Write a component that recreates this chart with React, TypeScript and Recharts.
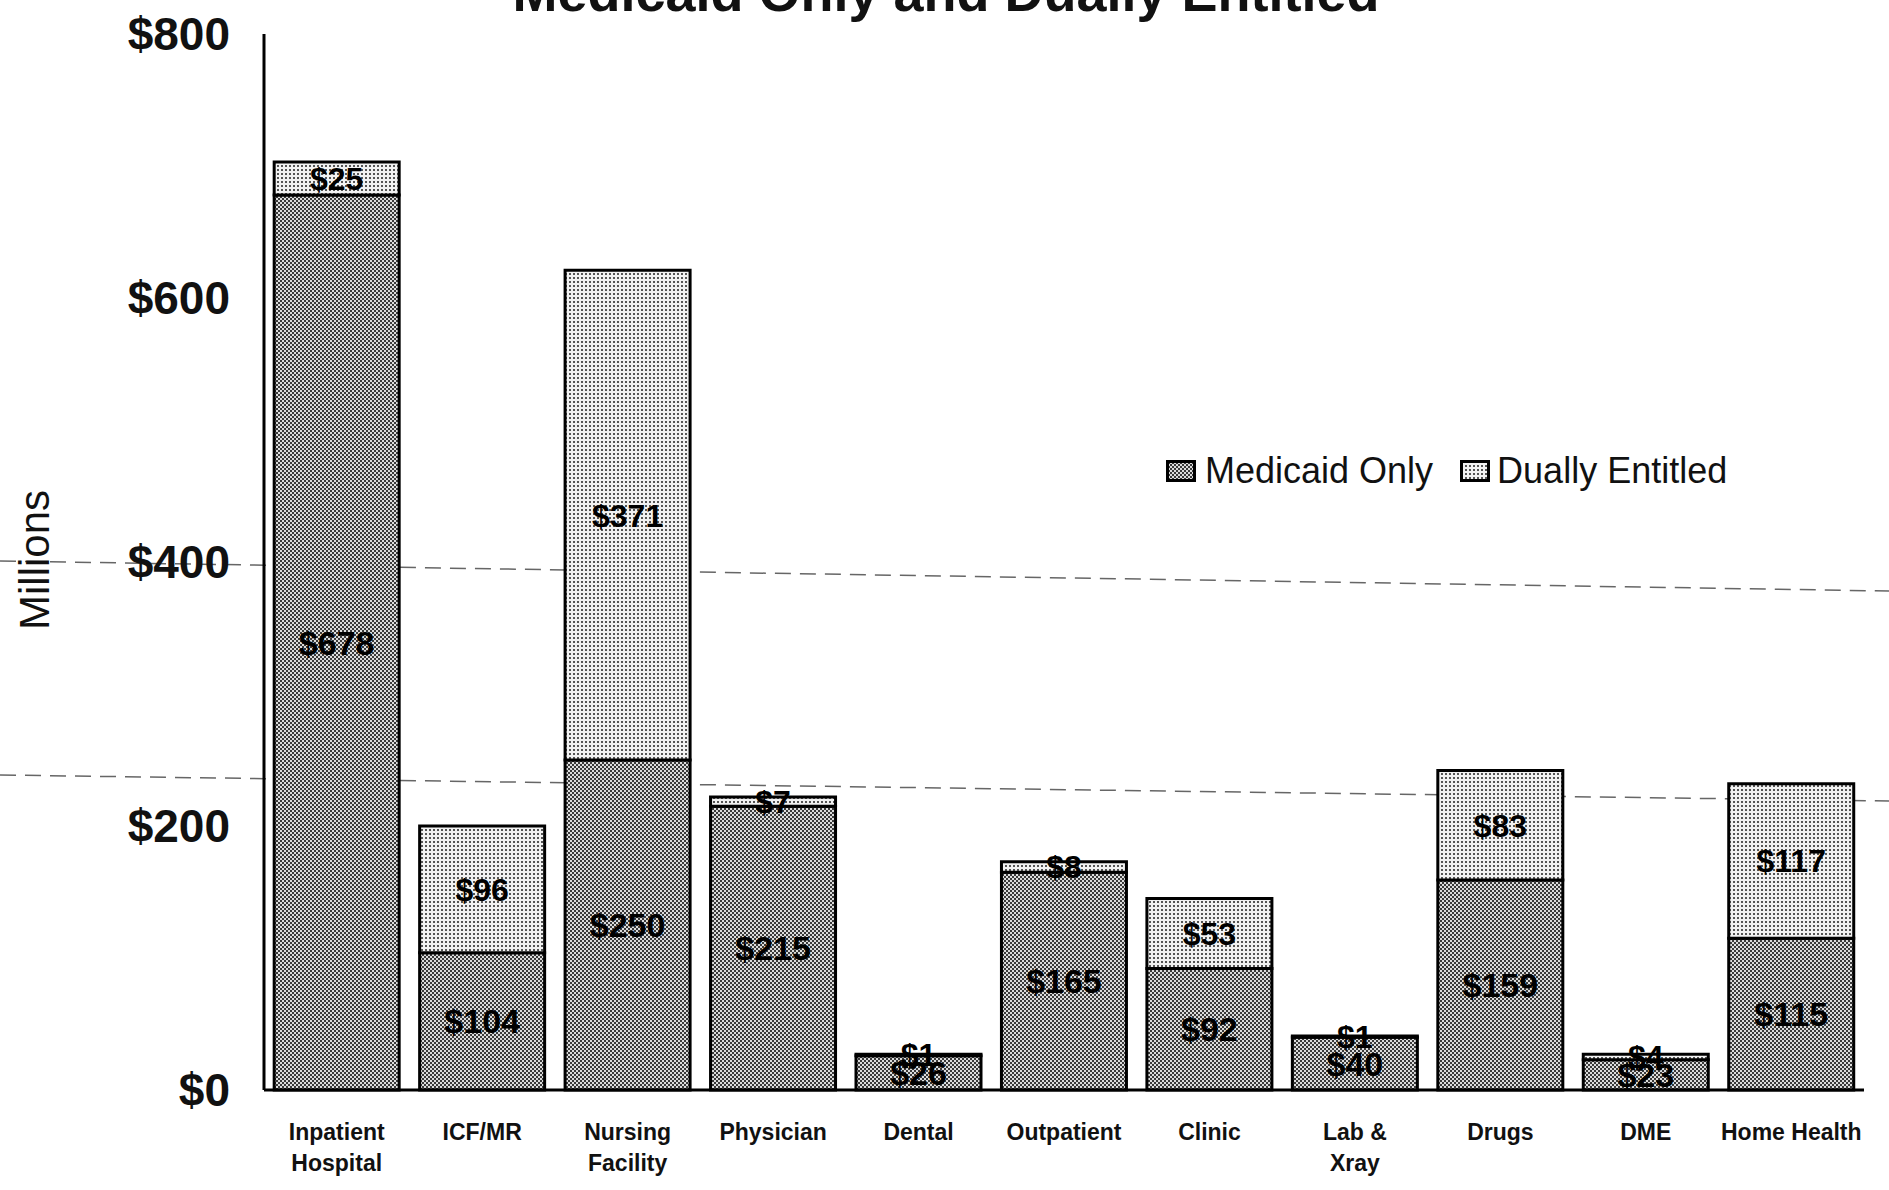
import React from 'react';
import { BarChart, Bar, XAxis, YAxis, LabelList, Legend } from 'recharts';

const categories = [
  'Inpatient\nHospital',
  'ICF/MR',
  'Nursing\nFacility',
  'Physician',
  'Dental',
  'Outpatient',
  'Clinic',
  'Lab &\nXray',
  'Drugs',
  'DME',
  'Home Health',
];
const medicaidOnly = [678, 104, 250, 215, 26, 165, 92, 40, 159, 23, 115];
const duallyEntitled = [25, 96, 371, 7, 1, 8, 53, 1, 83, 4, 117];
const yTicks = [0, 200, 400, 600, 800];
const seriesNames = ['Medicaid Only', 'Dually Entitled'];
const title = 'Medicaid Only and Dually Entitled';
const yLabel = 'Millions';

const data = categories.map((c, i) => ({
  name: c,
  medicaid: medicaidOnly[i],
  dual: duallyEntitled[i],
}));

const FONT = '"Liberation Sans", Arial, sans-serif';

const XTick = (props: any) => {
  const { x, y, payload } = props;
  const lines = String(payload.value).split('\n');
  return (
    <g transform={`translate(${x},${y})`}>
      {lines.map((l: string, i: number) => (
        <text
          key={i}
          x={0}
          y={50 + i * 31}
          textAnchor="middle"
          fontSize={23}
          fontWeight="bold"
          fontFamily={FONT}
          fill="#111"
        >
          {l}
        </text>
      ))}
    </g>
  );
};

const YTick = (props: any) => {
  const { x, y, payload } = props;
  return (
    <text
      x={x - 34}
      y={y}
      textAnchor="end"
      dominantBaseline="central"
      fontSize={46}
      fontWeight="bold"
      fontFamily={FONT}
      fill="#111"
    >
      {`$${payload.value}`}
    </text>
  );
};

const LegendContent = () => (
  <div
    style={{
      display: 'flex',
      alignItems: 'center',
      fontSize: 36,
      fontFamily: FONT,
      color: '#111',
      whiteSpace: 'nowrap',
    }}
  >
    <svg width={30} height={22} style={{ marginRight: 9 }}>
      <rect x={1.5} y={1.5} width={27} height={19} fill="url(#patMedicaid)" stroke="#000" strokeWidth={3} />
    </svg>
    <span style={{ marginRight: 27 }}>{seriesNames[0]}</span>
    <svg width={30} height={22} style={{ marginRight: 7 }}>
      <rect x={1.5} y={1.5} width={27} height={19} fill="url(#patDual)" stroke="#000" strokeWidth={3} />
    </svg>
    <span>{seriesNames[1]}</span>
  </div>
);

export default function App() {
  return (
    <div
      style={{
        position: 'absolute',
        top: 0,
        left: 0,
        width: 1889,
        height: 1190,
        background: '#fff',
        overflow: 'hidden',
        fontFamily: FONT,
      }}
    >
      <svg
        width={1889}
        height={1190}
        style={{ position: 'absolute', top: 0, left: 0 }}
      >
        <line x1={0} y1={561} x2={1889} y2={591} stroke="#666" strokeWidth={1.5} strokeDasharray="16 9" />
        <line x1={0} y1={775} x2={1889} y2={801} stroke="#666" strokeWidth={1.5} strokeDasharray="16 9" />
      </svg>
      <div style={{ position: 'absolute', top: 0, left: 0 }}>
        <BarChart
          width={1889}
          height={1190}
          data={data}
          margin={{ top: 34, right: 25, bottom: 0, left: 0 }}
          barCategoryGap="7%"
        >
          <defs>
            <pattern id="patMedicaid" width={4} height={4} patternUnits="userSpaceOnUse">
              <rect width={4} height={4} fill="#dcdcdc" />
              <rect x={0} y={0} width={2} height={2} fill="#3a3a3a" />
              <rect x={2} y={2} width={2} height={2} fill="#3a3a3a" />
            </pattern>
            <pattern id="patDual" width={4} height={4} patternUnits="userSpaceOnUse">
              <rect width={4} height={4} fill="#f2f2f2" />
              <rect x={1} y={1} width={2} height={2} fill="#555" />
            </pattern>
          </defs>
          <XAxis
            dataKey="name"
            height={100}
            interval={0}
            tickLine={false}
            tickSize={0}
            tickMargin={0}
            axisLine={{ stroke: '#000', strokeWidth: 3 }}
            tick={<XTick />}
          />
          <YAxis
            width={264}
            domain={[0, 800]}
            ticks={yTicks}
            tickLine={false}
            tickSize={0}
            tickMargin={0}
            axisLine={{ stroke: '#000', strokeWidth: 3 }}
            tick={<YTick />}
          />
          <Legend
            layout="horizontal"
            verticalAlign="middle"
            align="center"
            content={<LegendContent />}
            wrapperStyle={{ position: 'absolute', left: 1166, top: 450, width: 700 }}
          />
          <Bar
            dataKey="medicaid"
            name={seriesNames[0]}
            stackId="a"
            fill="url(#patMedicaid)"
            stroke="#000"
            strokeWidth={3}
            isAnimationActive={false}
          >
            <LabelList
              dataKey="medicaid"
              position="center"
              formatter={(v: any) => `$${v}`}
              fill="#000"
              fontSize={34}
              fontWeight="bold"
              fontFamily={FONT}
            />
          </Bar>
          <Bar
            dataKey="dual"
            name={seriesNames[1]}
            stackId="a"
            fill="url(#patDual)"
            stroke="#000"
            strokeWidth={3}
            isAnimationActive={false}
          >
            <LabelList
              dataKey="dual"
              position="center"
              formatter={(v: any) => `$${v}`}
              fill="#000"
              fontSize={32}
              fontWeight="bold"
              fontFamily={FONT}
            />
          </Bar>
        </BarChart>
      </div>
      <svg
        width={1889}
        height={1190}
        style={{ position: 'absolute', top: 0, left: 0, pointerEvents: 'none' }}
      >
        <text
          x={946}
          y={11}
          textAnchor="middle"
          fontSize={54}
          fontWeight="bold"
          fontFamily={FONT}
          fill="#111"
        >
          {title}
        </text>
        <text
          transform="translate(34,560) rotate(-90)"
          textAnchor="middle"
          dominantBaseline="central"
          fontSize={42}
          fontFamily={FONT}
          fill="#111"
        >
          {yLabel}
        </text>
      </svg>
    </div>
  );
}
